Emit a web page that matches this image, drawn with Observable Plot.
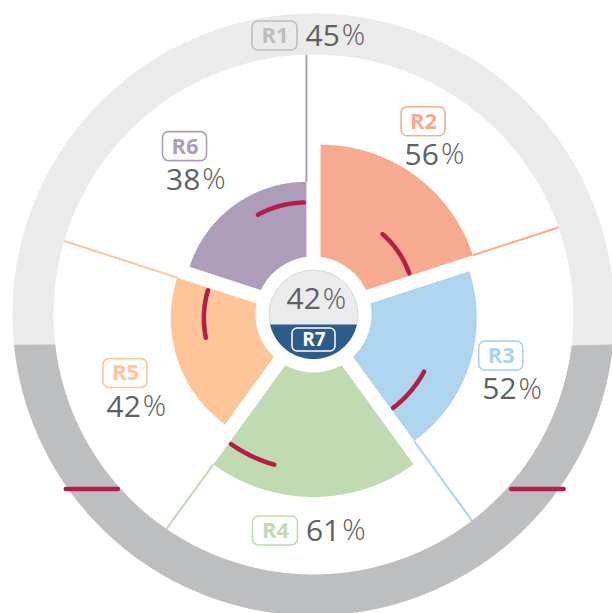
<!DOCTYPE html>
<html>
<head>
<meta charset="utf-8">
<script src="https://cdn.jsdelivr.net/npm/d3@7"></script>
<script src="https://cdn.jsdelivr.net/npm/@observablehq/plot@0.6"></script>
<style>
  html, body { margin: 0; padding: 0; background: #fff; }
  #chart svg { display: block; }
</style>
</head>
<body>
<div id="chart"></div>
<script>
// ---------- DATA ----------
const sectorLabels = ["R2", "R3", "R4", "R5", "R6"];
const sectorValues = [56, 52, 61, 42, 38];
const sectorBenchmarks = [24, 33, 48, 26, 28];
const ringLabel = "R1";
const ringValue = 45;
const ringBenchmark = 21;
const centerLabel = "R7";
const centerValue = 42;

// ---------- STYLE / LAYOUT ----------
const palette = {
  R1: "#bdbdbd", R2: "#f6ab91", R3: "#aed4ee", R4: "#c0dbb2",
  R5: "#fdc598", R6: "#ae9dba", R7: "#2d5b8a"
};
const ringLight = "#ebebeb", ringDark = "#bdbec0", benchRed = "#b21e46";
const valueColor = "#606060", coreGray = "#ebebeb";
const W = 612, H = 613, CX = 313, CY = 314;
const R_OUT = 301, R_IN = 260, CORE_R = 44.5, HALO_R = 58, EXPLODE = 12;
const CORE_SPLIT = -10;          // y of the gray/blue split in the centre disc
const VAL_SIZE = 30, DIGIT_W = 0.572 * VAL_SIZE;
const LABEL_ANGLE_SHIFT = [-2, -2, 1, -5, -2];
const rScale = d3.scaleLinear().domain([0, 100]).range([CORE_R, 251]);

const rad = a => a * Math.PI / 180;
const deg = r => r * 180 / Math.PI;
const pol = (r, a, o = [0, 0]) => [o[0] + r * Math.sin(rad(a)), o[1] + r * Math.cos(rad(a))];

// ---------- GEOMETRY FROM DATA ----------
const n = sectorLabels.length, step = 360 / n;
const sectors = sectorLabels.map((label, i) => {
  const a0 = i * step, a1 = (i + 1) * step, m = (a0 + a1) / 2;
  return {
    i, label, value: sectorValues[i], bench: sectorBenchmarks[i],
    a0, a1, m, o: pol(EXPLODE, m),
    r: rScale(sectorValues[i]), rb: rScale(sectorBenchmarks[i]),
    color: palette[label]
  };
});

const wedgePts = sectors.flatMap(s => {
  const pts = [];
  for (let a = s.a0; a <= s.a1 + 1e-9; a += 0.5) pts.push(pol(s.r, a, s.o));
  for (let a = s.a1; a >= s.a0 - 1e-9; a -= 0.5) pts.push(pol(40, a, s.o));
  return pts.map(([x, y]) => ({id: s.label, x, y, fill: s.color}));
});

const spokes = sectors.map(s => {
  const [x1, y1] = pol(s.r, s.a1, s.o);
  const [x2, y2] = pol(R_IN + 20, s.a1, s.o);
  return {x1, y1, x2, y2, color: s.color};
});

const benchPts = sectors.flatMap(s => {
  const end = s.a1 - deg(2.5 / s.rb);
  const start = end - deg(48 / s.rb);
  const pts = [];
  for (let a = start; a <= end + 1e-9; a += (end - start) / 40) pts.push(pol(s.rb, a, s.o));
  return pts.map(([x, y]) => ({id: s.label, x, y}));
});

// ring fill level (R1)
const L = -R_OUT + ringValue / 100 * 2 * R_OUT;
const aOut = deg(Math.acos(L / R_OUT)), aIn = deg(Math.acos(L / R_IN));
const ringDarkPts = [];
for (let a = aOut; a <= 360 - aOut + 1e-9; a += 0.5) ringDarkPts.push(pol(R_OUT, a));
for (let a = 360 - aIn; a >= aIn - 1e-9; a -= 0.5) ringDarkPts.push(pol(R_IN, a));
const ringDark_ = ringDarkPts.map(([x, y]) => ({x, y}));

const Lb = -R_OUT + ringBenchmark / 100 * 2 * R_OUT;
const xo = Math.sqrt(R_OUT * R_OUT - Lb * Lb), xi = Math.sqrt(R_IN * R_IN - Lb * Lb);
const ringBench = [{x1: -xo - 2.5, x2: -xi - 3, y: Lb}, {x1: xi + 5, x2: xo + 5, y: Lb}];

// centre disc blue part
const aS = deg(Math.acos(CORE_SPLIT / CORE_R));
const corePts = [];
for (let a = aS; a <= 360 - aS + 1e-9; a += 1) corePts.push(pol(CORE_R, a));
const coreBlue = corePts.map(([x, y]) => ({x, y}));

// ---------- LABELS ----------
const labels = sectors.map(s => {
  const inline = Math.abs(s.m - 180) < 30;
  const lr = inline ? s.r + 34 : Math.max(s.r + 42, 181);
  const [gx, gy] = pol(lr, s.m + LABEL_ANGLE_SHIFT[s.i], s.o);
  return {label: s.label, value: s.value, color: s.color, gx, gy, inline, boxFill: "white"};
});
labels.push({label: ringLabel, value: ringValue, color: palette.R1,
  gx: -4, gy: (R_IN + R_OUT) / 2 - 2, inline: true, boxFill: "none"});

const boxes = labels.map(d => d.inline
  ? {x1: d.gx - 57, x2: d.gx - 12, y1: d.gy - 14.5, y2: d.gy + 14.5, color: d.color, fill: d.boxFill,
     tx: d.gx - 34.5, ty: d.gy, label: d.label}
  : {x1: d.gx - 32, x2: d.gx + 12, y1: d.gy + 1, y2: d.gy + 30, color: d.color, fill: d.boxFill,
     tx: d.gx - 10, ty: d.gy + 15.5, label: d.label});
const values = labels.map(d => {
  const x = d.inline ? d.gx - 4 : d.gx - 29;
  const y = d.inline ? d.gy : d.gy - 18;
  const digits = String(d.value);
  return {x, y, digits, px: x + digits.length * DIGIT_W + 2};
});
const cx0 = -27;
values.push({x: cx0, y: 15, digits: String(centerValue), px: cx0 + String(centerValue).length * DIGIT_W + 2});

const centerBox = [{x1: -21, x2: 22, y1: CORE_SPLIT - 27, y2: CORE_SPLIT - 4, tx: 0.5, ty: CORE_SPLIT - 15.5, label: centerLabel}];

// ---------- PLOT ----------
const chart = Plot.plot({
  width: W, height: H, margin: 0,
  x: {domain: [-CX, W - CX], range: [0, W], axis: null},
  y: {domain: [-(H - CY), CY], range: [H, 0], axis: null},
  color: {type: "identity"},
  style: {background: "white", fontFamily: "'Open Sans', sans-serif", overflow: "visible"},
  marks: [
    // spokes (under ring)
    Plot.link(spokes, {x1: "x1", y1: "y1", x2: "x2", y2: "y2", stroke: "color", strokeWidth: 2}),
    // ring
    Plot.dot([{x: 0, y: 0}], {x: "x", y: "y", r: (R_IN + R_OUT) / 2, fill: "none", stroke: ringLight, strokeWidth: R_OUT - R_IN}),
    Plot.line(ringDark_, {x: "x", y: "y", fill: ringDark, stroke: "none"}),
    Plot.link(ringBench, {x1: "x1", x2: "x2", y1: "y", y2: "y", stroke: benchRed, strokeWidth: 4.5, strokeLinecap: "round"}),
    // sectors
    Plot.line(wedgePts, {x: "x", y: "y", z: "id", fill: "fill", stroke: "none"}),
    Plot.line(benchPts, {x: "x", y: "y", z: "id", stroke: benchRed, strokeWidth: 4.5, strokeLinecap: "round"}),
    // centre
    Plot.dot([{x: 0, y: 0}], {x: "x", y: "y", r: HALO_R, fill: "white", stroke: "none"}),
    Plot.dot([{x: 0, y: 0}], {x: "x", y: "y", r: CORE_R, fill: coreGray, stroke: "#c8d2dd", strokeWidth: 0.8}),
    Plot.line(coreBlue, {x: "x", y: "y", fill: palette.R7, stroke: "none"}),
    Plot.rect(centerBox, {x1: "x1", x2: "x2", y1: "y1", y2: "y2", rx: 5, fill: "none", stroke: "white", strokeWidth: 1.5}),
    Plot.text(centerBox, {x: "tx", y: "ty", text: "label", fill: "white", fontSize: 19, fontWeight: "bold", textAnchor: "middle", lineAnchor: "middle"}),
    // labels
    Plot.rect(boxes, {x1: "x1", x2: "x2", y1: "y1", y2: "y2", rx: 6, fill: "fill", stroke: "color", strokeWidth: 1.6}),
    Plot.text(boxes, {x: "tx", y: "ty", text: "label", fill: "color", fontSize: 22, fontWeight: "bold", textAnchor: "middle", lineAnchor: "middle"}),
    Plot.text(values, {x: "x", y: "y", text: "digits", fill: valueColor, fontSize: VAL_SIZE, textAnchor: "start", lineAnchor: "middle"}),
    Plot.text(values, {x: "px", y: "y", text: () => "%", fill: valueColor, fontSize: VAL_SIZE - 1, fontWeight: 300, textAnchor: "start", lineAnchor: "middle"})
  ]
});
document.getElementById("chart").appendChild(chart);
</script>
</body>
</html>
